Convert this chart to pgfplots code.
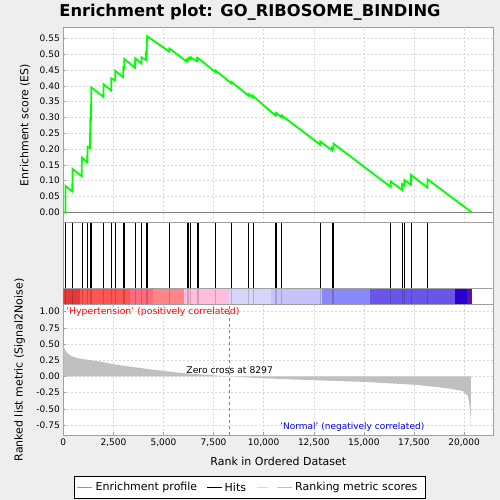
\documentclass[border=0pt]{standalone}
\usepackage{pgfplots}
\pgfplotsset{compat=1.18}
\usepackage{fontspec}
\setmainfont{DejaVu Sans}
\definecolor{bg}{RGB}{238,238,238}
\definecolor{frame}{RGB}{160,160,160}
\definecolor{gridc}{RGB}{215,215,215}
\definecolor{esgreen}{RGB}{0,255,0}
\definecolor{metric}{RGB}{192,192,192}
\definecolor{cb1}{RGB}{228,56,58}
\definecolor{cb2}{RGB}{255,85,85}
\definecolor{cb3}{RGB}{255,108,128}
\definecolor{cb4}{RGB}{255,134,134}
\definecolor{cb5}{RGB}{255,190,222}
\definecolor{cb6}{RGB}{214,214,250}
\definecolor{cb7}{RGB}{198,194,250}
\definecolor{cb8}{RGB}{136,136,248}
\definecolor{cb9}{RGB}{106,85,232}
\definecolor{cb10}{RGB}{42,0,208}
\definecolor{cb11}{RGB}{90,16,176}
\pgfplotsset{
  base/.style={scale only axis, width=429.4pt, xmin=0, xmax=21430,
    axis line style={frame}, every tick/.style={frame},
    tick label style={font=\fontsize{9}{9}\selectfont},
    /pgf/number format/assume math mode=true,
    grid style={gridc, dash pattern=on 2pt off 2pt},
    clip=true},
}
\begin{document}
\begin{tikzpicture}
\path[use as bounding box, fill=bg] (0,0) rectangle (500pt,500pt);
% ---------- top: ES ----------
\begin{axis}[base, at={(63.3pt,277.3pt)}, anchor=south west, height=195.4pt,
  ymin=-0.033, ymax=0.585, axis background/.style={fill=white},
  xtick={0,2500,...,20000}, xticklabels={}, major x tick style={draw=none},
  ytick={0,0.05,...,0.56}, yticklabel style={/pgf/number format/fixed,/pgf/number format/fixed zerofill,/pgf/number format/precision=2},
  tick pos=left, major tick length=3pt, grid=major]
\addplot[gray, line width=0.8pt] coordinates {(0,0) (21430,0)};
\addplot[esgreen, line width=1.8pt] coordinates {
(0,0) (113,-0.001) (114,0.083)
(450,0.066) (462,0.137)
(918,0.114) (928,0.173)
(1200,0.158) (1206,0.207)
(1330,0.203) (1340,0.25) (1345,0.294)
(1385,0.292) (1390,0.345) (1395,0.395)
(2000,0.365) (2005,0.405)
(2390,0.385) (2397,0.423)
(2590,0.417) (2596,0.447)
(2990,0.427) (2993,0.457)
(3040,0.455) (3045,0.485)
(3580,0.457) (3588,0.487)
(3900,0.470) (3906,0.49)
(4125,0.482) (4134,0.505) (4160,0.503) (4165,0.53) (4184,0.557)
(5290,0.508) (5296,0.518)
(6165,0.476) (6170,0.483) (6250,0.480) (6253,0.488) (6350,0.485) (6352,0.490)
(6660,0.478) (6665,0.485) (6710,0.482) (6715,0.488)
(7600,0.443) (7608,0.448)
(8400,0.407) (8402,0.412)
(9240,0.369) (9246,0.374)
(9460,0.363) (9464,0.368)
(10580,0.306) (10586,0.311) (10630,0.309) (10636,0.314)
(10900,0.300) (10904,0.306)
(12815,0.214) (12820,0.224)
(13410,0.196) (13415,0.204) (13480,0.201) (13485,0.217)
(16340,0.080) (16343,0.097)
(16905,0.071) (16909,0.089) (17020,0.084) (17023,0.102)
(17350,0.087) (17356,0.118)
(18175,0.078) (18180,0.104)
(20380,0.0)
};
\end{axis}
% ---------- middle: hits + colour bar ----------
\begin{axis}[base, at={(63.3pt,195.3pt)}, anchor=south west, height=82pt,
  ymin=0, ymax=1, axis background/.style={fill=white},
  xtick=\empty, ytick=\empty]
\addplot[black, line width=0.7pt, ycomb] coordinates {
(114,1)(462,1)(928,1)(1206,1)(1340,1)(1345,1)(1390,1)(1395,1)(2000,1)(2397,1)(2596,1)
(2993,1)(3045,1)(3588,1)(3906,1)(4134,1)(4165,1)(4184,1)(5296,1)(6170,1)(6253,1)(6352,1)
(6665,1)(6715,1)(7608,1)(8402,1)(9246,1)(9464,1)(10586,1)(10636,1)(10904,1)(12820,1)
(13415,1)(13485,1)(16343,1)(16909,1)(17023,1)(17356,1)(18180,1)};
\addplot[draw=none, fill=cb1] coordinates {(0,0.2) (833,0.2)} \closedcycle;
\addplot[draw=none, fill=cb2] coordinates {(833,0.2) (3328,0.2)} \closedcycle;
\addplot[draw=none, fill=cb3] coordinates {(3328,0.2) (4490,0.2)} \closedcycle;
\addplot[draw=none, fill=cb4] coordinates {(4490,0.2) (6023,0.2)} \closedcycle;
\addplot[draw=none, fill=cb5] coordinates {(6023,0.2) (8283,0.2)} \closedcycle;
\addplot[draw=none, fill=cb6] coordinates {(8283,0.2) (10364,0.2)} \closedcycle;
\addplot[draw=none, fill=cb7] coordinates {(10364,0.2) (12894,0.2)} \closedcycle;
\addplot[draw=none, fill=cb8] coordinates {(12894,0.2) (15304,0.2)} \closedcycle;
\addplot[draw=none, fill=cb9] coordinates {(15304,0.2) (19546,0.2)} \closedcycle;
\addplot[draw=none, fill=cb10] coordinates {(19546,0.2) (20130,0.2)} \closedcycle;
\addplot[draw=none, fill=cb11] coordinates {(20130,0.2) (20380,0.2)} \closedcycle;
\addplot[black, opacity=0.18, line width=0.6pt, ycomb] coordinates {
(114,0.2)(462,0.2)(928,0.2)(1206,0.2)(1340,0.2)(1390,0.2)(2000,0.2)(2397,0.2)(2596,0.2)
(2993,0.2)(3045,0.2)(3588,0.2)(3906,0.2)(4134,0.2)(4184,0.2)(5296,0.2)(6170,0.2)(6253,0.2)(6352,0.2)
(6665,0.2)(6715,0.2)(7608,0.2)(8402,0.2)(9246,0.2)(9464,0.2)(10586,0.2)(10636,0.2)(10904,0.2)(12820,0.2)
(13415,0.2)(13485,0.2)(16343,0.2)(16909,0.2)(17023,0.2)(17356,0.2)(18180,0.2)};
\addplot[frame, line width=0.5pt] coordinates {(0,0.2) (21430,0.2)};
\end{axis}
% ---------- bottom: ranking metric ----------
\begin{axis}[base, at={(63.3pt,64.7pt)}, anchor=south west, height=130.6pt,
  ymin=-0.909, ymax=1.108, axis background/.style={fill=white},
  xtick={0,2500,...,20000}, scaled x ticks=false,
  xticklabel style={/pgf/number format/1000 sep={,}},
  ytick={-0.75,-0.5,...,1.0}, yticklabel style={/pgf/number format/fixed,/pgf/number format/fixed zerofill,/pgf/number format/precision=2},
  tick pos=left, major tick length=3pt, grid=major]
\addplot[draw=none, fill=metric] coordinates {
(0,0.50) (40,0.45) (80,0.42) (165,0.37) (415,0.31) (830,0.275) (1830,0.23) (2660,0.18)
(4320,0.11) (5990,0.05) (8297,0.0) (10130,-0.03) (12620,-0.06) (15115,-0.085)
(17610,-0.13) (19110,-0.18) (19940,-0.225) (20190,-0.30) (20270,-0.43) (20320,-0.6) (20340,-0.84)
(20345,0)} \closedcycle;
\addplot[gray, dash pattern=on 3pt off 3pt, line width=0.6pt] coordinates {(8297,-0.909) (8297,1.108)};
\end{axis}
% ---------- texts ----------
\node[font=\fontsize{16.3}{16.3}\selectfont\bfseries] at (250pt,488pt) {Enrichment plot: GO\_RIBOSOME\_BINDING};
\node[rotate=90, font=\fontsize{11}{11}\selectfont] at (25pt,375pt) {Enrichment score (ES)};
\node[rotate=90, font=\fontsize{11}{11}\selectfont] at (19.5pt,130pt) {Ranked list metric (Signal2Noise)};
\node[font=\fontsize{11}{11}\selectfont] at (278.3pt,38.3pt) {Rank in Ordered Dataset};
\node[anchor=west, text=red, font=\fontsize{9.3}{9.3}\selectfont, inner sep=0pt] at (66pt,188.3pt) {'Hypertension' (positively correlated)};
\node[anchor=west, text=blue, font=\fontsize{9}{9}\selectfont, inner sep=0pt] at (280pt,73.3pt) {'Normal' (negatively correlated)};
\node[font=\fontsize{9.2}{9.2}\selectfont, inner sep=0pt] at (229.7pt,129.7pt) {Zero cross at 8297};
% legend
\draw[black, fill=white] (74pt,1.3pt) rectangle (425pt,23.3pt);
\draw[esgreen, line width=1.5pt] (77.3pt,12.3pt) -- (92.3pt,12.3pt);
\node[anchor=west, inner sep=0pt, font=\fontsize{11}{11}\selectfont] at (95.5pt,12.3pt) {Enrichment profile};
\draw[black, line width=0.8pt] (207.3pt,12.3pt) -- (221.7pt,12.3pt);
\node[anchor=west, inner sep=0pt, font=\fontsize{11}{11}\selectfont] at (224.5pt,12.3pt) {Hits};
\draw[gray!30, line width=0.8pt] (256.7pt,12.3pt) -- (268pt,12.3pt);
\draw[metric, line width=0.8pt] (276.7pt,12.3pt) -- (291.7pt,12.3pt);
\node[anchor=west, inner sep=0pt, font=\fontsize{11}{11}\selectfont] at (295pt,12.3pt) {Ranking metric scores};
\end{tikzpicture}
\end{document}
